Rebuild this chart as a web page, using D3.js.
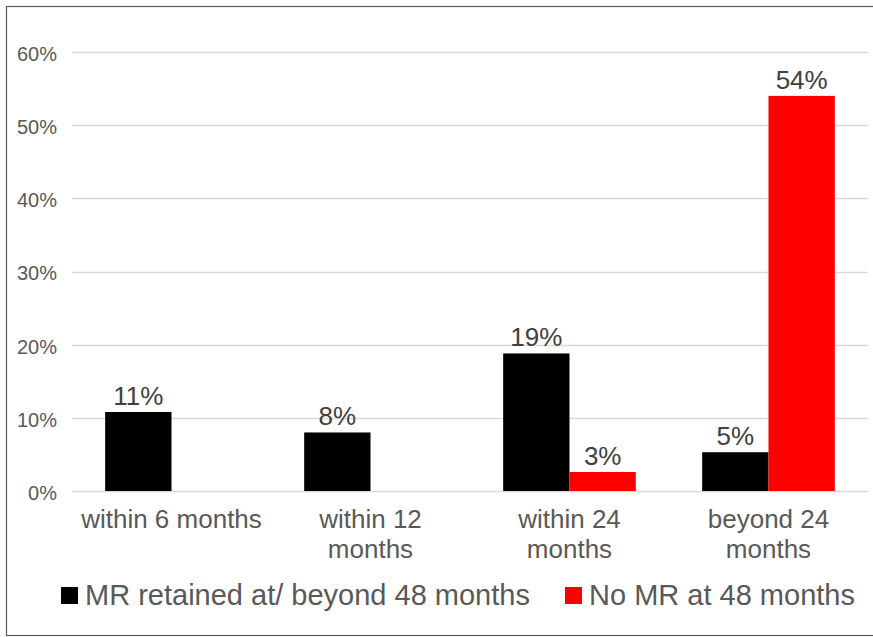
<!DOCTYPE html>
<html>
<head>
<meta charset="utf-8">
<script src="https://cdn.jsdelivr.net/npm/d3@7"></script>
<style>
  html, body { margin: 0; padding: 0; background: #fff; }
  text { font-family: "Liberation Sans", Arial, sans-serif; }
</style>
</head>
<body>
<div id="chart"></div>
<script>
// Chart data
const categories = [["within 6 months"], ["within 12", "months"], ["within 24", "months"], ["beyond 24", "months"]];
const seriesNames = ["MR retained at/ beyond 48 months", "No MR at 48 months"];
const seriesColors = ["#000000", "#ff0000"];
const retained = [10.8, 8.0, 18.8, 5.3];
const noMR = [null, null, 2.6, 54.0];
const yTicks = [0, 10, 20, 30, 40, 50, 60];

const width = 873, height = 637;
const plotLeft = 72, plotRight = 868, plotTop = 52, plotBottom = 491;

const svg = d3.select('#chart')
  .append('svg')
  .attr('width', width)
  .attr('height', height);

// outer frame
svg.append('rect')
  .attr('x', 6.5).attr('y', 6.5)
  .attr('width', 900).attr('height', 629)
  .attr('fill', 'none')
  .attr('stroke', '#595959')
  .attr('stroke-width', 1.2);

const catIds = categories.map((c, i) => i);

const x0 = d3.scaleBand()
  .domain(catIds)
  .range([plotLeft, plotRight])
  .padding(0);

const x1 = d3.scaleBand()
  .domain([0, 1])
  .range([0, x0.bandwidth()])
  .paddingInner(0)
  .paddingOuter(0.5);

const y = d3.scaleLinear()
  .domain([0, 60])
  .range([plotBottom, plotTop]);

// gridlines
svg.append('g')
  .selectAll('line')
  .data(yTicks)
  .join('line')
  .attr('x1', plotLeft).attr('x2', plotRight)
  .attr('y1', d => Math.round(y(d)) + 0.5)
  .attr('y2', d => Math.round(y(d)) + 0.5)
  .attr('stroke', '#d9d9d9')
  .attr('stroke-width', 1.5);

// y axis labels
const yAxis = d3.axisLeft(y)
  .tickValues(yTicks)
  .tickFormat(d => d + '%')
  .tickSize(0)
  .tickPadding(15);

const yG = svg.append('g')
  .attr('transform', `translate(${plotLeft},0)`)
  .call(yAxis);
yG.select('.domain').remove();
yG.selectAll('text')
  .attr('fill', '#595959')
  .style('font-size', '20px')
  .attr('dy', '0.42em');

// bars
const seriesData = [retained, noMR];
const groups = svg.append('g')
  .selectAll('g')
  .data(seriesData)
  .join('g')
  .attr('fill', (d, s) => seriesColors[s]);

groups.selectAll('rect')
  .data((vals, s) => vals.map((v, i) => ({ v, i, s })).filter(d => d.v != null))
  .join('rect')
  .attr('x', d => x0(d.i) + x1(d.s))
  .attr('y', d => y(d.v))
  .attr('width', x1.bandwidth())
  .attr('height', d => y(0) - y(d.v));

// value labels
groups.selectAll('text')
  .data((vals, s) => vals.map((v, i) => ({ v, i, s })).filter(d => d.v != null))
  .join('text')
  .attr('x', d => x0(d.i) + x1(d.s) + x1.bandwidth() / 2)
  .attr('y', d => y(d.v) - 7)
  .attr('text-anchor', 'middle')
  .attr('fill', '#404040')
  .style('font-size', '26px')
  .text(d => Math.round(d.v) + '%');

// category labels
const xG = svg.append('g');
categories.forEach((lines, i) => {
  const t = xG.append('text')
    .attr('text-anchor', 'middle')
    .attr('fill', '#595959')
    .style('font-size', '26px');
  lines.forEach((ln, k) => {
    t.append('tspan')
      .attr('x', x0(i) + x0.bandwidth() / 2)
      .attr('y', 528 + k * 30)
      .text(ln);
  });
});

// legend
const legendItems = [{ x: 61, tx: 85 }, { x: 565, tx: 589 }];
const legend = svg.append('g');
seriesNames.forEach((name, s) => {
  legend.append('rect')
    .attr('x', legendItems[s].x)
    .attr('y', 587)
    .attr('width', 17)
    .attr('height', 17)
    .attr('fill', seriesColors[s]);
  legend.append('text')
    .attr('x', legendItems[s].tx)
    .attr('y', 605)
    .attr('fill', '#595959')
    .style('font-size', '29px')
    .text(name);
});
</script>
</body>
</html>
